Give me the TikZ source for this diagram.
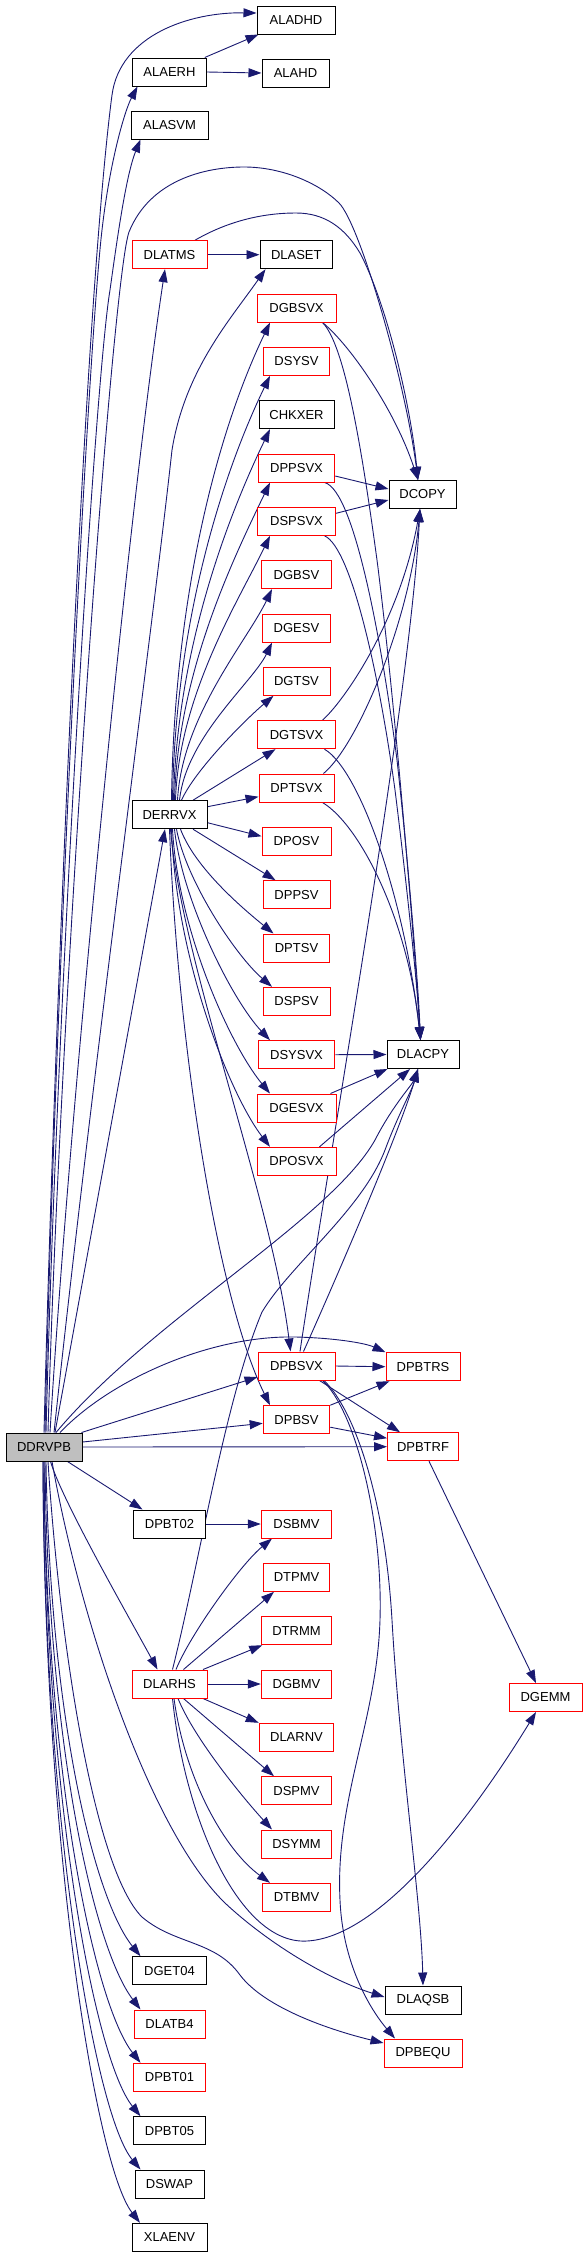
\documentclass[tikz,border=0pt]{standalone}
\usepackage{fontspec}
\setmainfont{Liberation Sans}
\usetikzlibrary{arrows.meta,calc}
\definecolor{edgecol}{HTML}{191970}
\definecolor{nodered}{HTML}{FF0000}
\pgfdeclarelayer{edges}
\pgfsetlayers{edges,main}
\begin{document}
\begin{tikzpicture}[x=1pt,y=-1pt,
  box/.style={draw, line width=1pt, fill=white, minimum height=28pt, inner xsep=1pt, inner ysep=0pt, font=\fontsize{13}{15}\selectfont, anchor=center},
  bk/.style={box, draw=black},
  rd/.style={box, draw=nodered},
  cur/.style={box, draw=black, fill=gray!50},
  e/.style={draw=edgecol, line width=0.9pt, -{Triangle[length=13pt,width=9pt]}},
]
\useasboundingbox (0,0) rectangle (587,2257);
\newcommand\Nd[6]{\node[#1,minimum width=#2pt] (#3) at (#4,#5) {#6};}
% column 0
\Nd{cur}{76}{ddrvpb}{44}{1447}{DDRVPB}
% column 1
\Nd{bk}{73.5}{alaerh}{169.5}{72}{ALAERH}
\Nd{bk}{77}{alasvm}{169.5}{125}{ALASVM}
\Nd{rd}{75}{dlatms}{169.5}{254.7}{DLATMS}
\Nd{bk}{75}{derrvx}{169.5}{814.7}{DERRVX}
\Nd{bk}{72}{dpbt02}{169.5}{1524}{DPBT02}
\Nd{rd}{75}{dlarhs}{169.5}{1684}{DLARHS}
\Nd{bk}{73.5}{dget04}{169.5}{1970.7}{DGET04}
\Nd{rd}{71}{dlatb4}{169.5}{2024}{DLATB4}
\Nd{rd}{72}{dpbt01}{169.5}{2077.3}{DPBT01}
\Nd{bk}{72}{dpbt05}{169.5}{2130.7}{DPBT05}
\Nd{bk}{69}{dswap}{169.5}{2184}{DSWAP}
\Nd{bk}{75}{xlaenv}{169.5}{2237.3}{XLAENV}
% column 2
\Nd{bk}{78}{aladhd}{296}{20}{ALADHD}
\Nd{bk}{67}{alahd}{295.5}{73}{ALAHD}
\Nd{bk}{72.6}{dlaset}{296.3}{254.7}{DLASET}
\Nd{rd}{79}{dgbsvx}{296.5}{308}{DGBSVX}
\Nd{rd}{66.6}{dsysv}{296.5}{361.3}{DSYSV}
\Nd{bk}{75}{chkxer}{296.5}{414.7}{CHKXER}
\Nd{rd}{76.5}{dppsvx}{296.5}{468}{DPPSVX}
\Nd{rd}{78}{dspsvx}{296.5}{521.3}{DSPSVX}
\Nd{rd}{70}{dgbsv}{296.5}{574.7}{DGBSV}
\Nd{rd}{68}{dgesv}{296.5}{628}{DGESV}
\Nd{rd}{67}{dgtsv}{296.5}{681.3}{DGTSV}
\Nd{rd}{78}{dgtsvx}{296.5}{734.7}{DGTSVX}
\Nd{rd}{75}{dptsvx}{296.5}{788}{DPTSVX}
\Nd{rd}{69}{dposv}{296.5}{841.3}{DPOSV}
\Nd{rd}{67}{dppsv}{296.5}{894.7}{DPPSV}
\Nd{rd}{65.6}{dptsv}{296.5}{948}{DPTSV}
\Nd{rd}{67}{dspsv}{296.5}{1001.3}{DSPSV}
\Nd{rd}{76.5}{dsysvx}{296.5}{1054.7}{DSYSVX}
\Nd{rd}{79}{dgesvx}{296.5}{1108}{DGESVX}
\Nd{rd}{79}{dposvx}{296.5}{1161.3}{DPOSVX}
\Nd{rd}{77}{dpbsvx}{296.5}{1366}{DPBSVX}
\Nd{rd}{66.6}{dpbsv}{296.5}{1419.7}{DPBSV}
\Nd{rd}{70.5}{dsbmv}{296.5}{1524}{DSBMV}
\Nd{rd}{66.6}{dtpmv}{296.5}{1577.3}{DTPMV}
\Nd{rd}{69.5}{dtrmm}{296.5}{1630.7}{DTRMM}
\Nd{rd}{70.5}{dgbmv}{296.5}{1684}{DGBMV}
\Nd{rd}{74.6}{dlarnv}{296.5}{1737.3}{DLARNV}
\Nd{rd}{69.5}{dspmv}{296.5}{1790.7}{DSPMV}
\Nd{rd}{70.5}{dsymm}{296.5}{1844}{DSYMM}
\Nd{rd}{68}{dtbmv}{296.5}{1897.3}{DTBMV}
% column 3
\Nd{bk}{67}{dcopy}{422.5}{494.5}{DCOPY}
\Nd{bk}{72}{dlacpy}{423}{1054.5}{DLACPY}
\Nd{rd}{74}{dpbtrs}{423}{1366.7}{DPBTRS}
\Nd{rd}{71}{dpbtrf}{423}{1446.7}{DPBTRF}
\Nd{bk}{76}{dlaqsb}{423}{2000}{DLAQSB}
\Nd{rd}{78}{dpbequ}{423}{2053}{DPBEQU}
% column 4
\Nd{rd}{73}{dgemm}{545.5}{1697.5}{DGEMM}

\begin{pgfonlayer}{edges}
% DDRVPB upward
\draw[e] (ddrvpb.north) .. controls (55,1000) and (85,300) .. (112,95) .. controls (120,35) and (190,12) .. ($(aladhd.west)+(0,-7)$);
\draw[e] ($(ddrvpb.north)+(1,0)$) .. controls (55,1000) and (88,350) .. (102,230) .. controls (110,160) and (125,110) .. ($(alaerh.south)+(-32,0)$);
\draw[e] ($(ddrvpb.north)+(2,0)$) .. controls (57,1000) and (95,380) .. (110,290) .. controls (117,240) and (126,175) .. ($(alasvm.south)+(-29,0)$);
\draw[e] ($(ddrvpb.north)+(4,0)$) .. controls (60,1000) and (112,280) .. (129,232) .. controls (150,180) and (205,167) .. (244,167) .. controls (283,167) and (320,184) .. (339,203) .. controls (360,224) and (405,380) .. ($(dcopy.north)+(-4.5,0)$);
\draw[e] ($(ddrvpb.north)+(6,0)$) .. controls (70,1100) and (130,500) .. ($(dlatms.south)+(-4.5,0)$);
\draw[e] ($(ddrvpb.north)+(10,0)$) .. controls (95,1050) and (150,650) .. (172,450) .. controls (185,370) and (230,320) .. ($(dlaset.south west)+(6,0)$);
\draw[e] ($(ddrvpb.north)+(11,0)$) -- ($(derrvx.south)+(-4.5,0)$);
\draw[e] ($(ddrvpb.north)+(12,0)$) .. controls (150,1320) and (330,1220) .. (375,1140) .. controls (393,1105) and (412,1085) .. ($(dlacpy.south)+(-5,0)$);
\draw[e] ($(ddrvpb.north)+(16,0)$) .. controls (110,1380) and (210,1335) .. (296,1337) .. controls (335,1338) and (365,1343) .. (dpbtrs.north west);
% DDRVPB right
\draw[e] (ddrvpb.east) -- (dpbtrf.west);
\draw[e] ($(ddrvpb.east)+(0,-5)$) -- ($(dpbsv.west)+(0,3.6)$);
\draw[e] ($(ddrvpb.north east)+(-1,0)$) -- ($(dpbsvx.south west)+(0,-3.5)$);
% DDRVPB downward
\draw[e] ($(ddrvpb.south)+(23.5,0)$) -- ($(dpbt02.north)+(-27,0)$);
\draw[e] ($(ddrvpb.south)+(6.5,0)$) .. controls (62,1500) and (125,1610) .. ($(dlarhs.north)+(-12,0)$);
\draw[e] ($(ddrvpb.south)+(8,0)$) .. controls (80,1620) and (150,1830) .. (225,1903) .. controls (270,1945) and (330,1980) .. ($(dlaqsb.west)+(0,-3)$);
\draw[e] ($(ddrvpb.south)+(4,0)$) .. controls (60,1650) and (95,1870) .. (142,1917) .. controls (175,1945) and (215,1940) .. (240,1975) .. controls (265,2008) and (330,2030) .. ($(dpbequ.west)+(0,-10)$);
\draw[e] ($(ddrvpb.south)+(2,0)$) .. controls (50,1720) and (95,1900) .. ($(dget04.north)+(-29,0)$);
\draw[e] ($(ddrvpb.south)+(1,0)$) .. controls (48,1750) and (95,1950) .. ($(dlatb4.north)+(-29,0)$);
\draw[e] (ddrvpb.south) .. controls (46,1780) and (95,2005) .. ($(dpbt01.north)+(-29,0)$);
\draw[e] (ddrvpb.south) .. controls (45,1800) and (95,2060) .. ($(dpbt05.north)+(-29,0)$);
\draw[e] ($(ddrvpb.south)+(-1,0)$) .. controls (44,1820) and (95,2115) .. ($(dswap.north)+(-29,0)$);
\draw[e] ($(ddrvpb.south)+(-1,0)$) .. controls (44,1840) and (95,2165) .. ($(xlaenv.north)+(-29.5,0)$);
% ALAERH, DLATMS
\draw[e] (alaerh.east) -- (alahd.west);
\draw[e] ($(alaerh.north east)+(-2,0)$) -- ($(aladhd.south west)+(2,0)$);
\draw[e] (dlatms.east) -- (dlaset.west);
\draw[e] ($(dlatms.north)+(25.5,0)$) .. controls (230,220) and (265,213) .. (296,213) .. controls (325,213) and (345,228) .. (360,253) .. controls (385,300) and (410,400) .. ($(dcopy.north)+(-4.5,0)$);
% DERRVX upward
\draw[e] ($(derrvx.north)+(2,0)$) .. controls (174,610) and (212.5,442) .. ($(dgbsvx.south)+(-26.5,0)$);
\draw[e] ($(derrvx.north)+(3,0)$) .. controls (175,630) and (219,481) .. ($(dsysv.south)+(-26.5,0)$);
\draw[e] ($(derrvx.north)+(4,0)$) .. controls (177,652) and (225.4,521.7) .. ($(chkxer.south)+(-26.5,0)$);
\draw[e] ($(derrvx.north)+(5,0)$) .. controls (178,673) and (231.7,562) .. ($(dppsvx.south)+(-26.5,0)$);
\draw[e] ($(derrvx.north)+(6,0)$) .. controls (179,695) and (238.2,601.3) .. ($(dspsvx.south)+(-26.5,0)$);
\draw[e] ($(derrvx.north)+(8,0)$) .. controls (182,716) and (246.6,641.7) .. ($(dgbsv.south)+(-24.5,0)$);
\draw[e] ($(derrvx.north)+(10,0)$) .. controls (186,737) and (253,682) .. ($(dgesv.south)+(-24.5,0)$);
\draw[e] ($(derrvx.north)+(12,0)$) .. controls (195,770) and (245,720) .. ($(dgtsv.south)+(-23,0)$);
\draw[e] ($(derrvx.north)+(23.5,0)$) -- ($(dgtsvx.south)+(-21,0)$);
\draw[e] ($(derrvx.east)+(0,-8)$) -- ($(dptsvx.west)+(0,8.7)$);
% DERRVX downward
\draw[e] ($(derrvx.east)+(0,8)$) -- ($(dposv.west)+(0,-5)$);
\draw[e] ($(derrvx.south)+(23.5,0)$) -- ($(dppsv.north)+(-21,0)$);
\draw[e] ($(derrvx.south)+(11,0)$) .. controls (195.5,868.7) and (243.5,909) .. ($(dptsv.north)+(-23,0)$);
\draw[e] ($(derrvx.south)+(7,0)$) .. controls (186,880) and (235,955) .. ($(dspsv.north)+(-24.5,0)$);
\draw[e] ($(derrvx.south)+(5,0)$) .. controls (182,900) and (232,1000) .. ($(dsysvx.north)+(-26.5,0)$);
\draw[e] ($(derrvx.south)+(3,0)$) .. controls (178,930) and (230,1045) .. ($(dgesvx.north)+(-26.5,0)$);
\draw[e] ($(derrvx.south)+(2,0)$) .. controls (176,960) and (230,1095) .. ($(dposvx.north)+(-26.5,0)$);
\draw[e] ($(derrvx.south)+(1,0)$) .. controls (181,960) and (272,1200) .. ($(dpbsvx.north)+(-6,0)$);
\draw[e] (derrvx.south) .. controls (178,1050) and (218,1300) .. ($(dpbsv.north)+(-26.5,0)$);
% into DCOPY
\draw[e] ($(dgbsvx.south)+(26,0)$) .. controls (350,345) and (395,410) .. ($(dcopy.north)+(-4.5,0)$);
\draw[e] ($(dppsvx.east)+(0,8)$) -- ($(dcopy.west)+(0,-5.5)$);
\draw[e] ($(dspsvx.east)+(0,-8)$) -- ($(dcopy.west)+(0,5.5)$);
\draw[e] ($(dgtsvx.north)+(26,0)$) .. controls (345,700) and (400,620) .. ($(dcopy.south)+(-2.5,0)$);
\draw[e] ($(dptsvx.north)+(27,0)$) .. controls (358,745) and (410,620) .. ($(dcopy.south)+(-2.5,0)$);
\draw[e] ($(dpbsvx.north)+(3.5,0)$) .. controls (330,1150) and (410,700) .. ($(dcopy.south)+(-2.5,0)$);
% into DLACPY
\draw[e] ($(dgbsvx.south)+(26,0)$) .. controls (345,345) and (362,450) .. (377,560) .. controls (395,700) and (415,950) .. ($(dlacpy.north)+(-2.5,0)$);
\draw[e] ($(dppsvx.south)+(28,0)$) .. controls (355,490) and (383,650) .. (397,760) .. controls (408,860) and (418,980) .. ($(dlacpy.north)+(-2.5,0)$);
\draw[e] ($(dspsvx.south)+(28,0)$) .. controls (352,548) and (380,680) .. (395,790) .. controls (405,870) and (417,980) .. ($(dlacpy.north)+(-2.5,0)$);
\draw[e] ($(dgtsvx.south)+(28,0)$) .. controls (360,770) and (405,900) .. ($(dlacpy.north)+(-2.5,0)$);
\draw[e] ($(dptsvx.south)+(26,0)$) .. controls (360,825) and (408,920) .. ($(dlacpy.north)+(-2.5,0)$);
\draw[e] (dsysvx.east) -- (dlacpy.west);
\draw[e] ($(dgesvx.north east)+(-6,0)$) -- ($(dlacpy.south west)+(1,0)$);
\draw[e] ($(dposvx.north east)+(-17,0)$) -- ($(dlacpy.south)+(-13,0)$);
\draw[e] ($(dpbsvx.north)+(7,0)$) .. controls (340,1270) and (400,1130) .. ($(dlacpy.south)+(-5,0)$);
\draw[e] ($(dlarhs.north)+(3,0)$) .. controls (200,1560) and (225,1400) .. (262,1312) .. controls (290,1265) and (362,1210) .. (385,1150) .. controls (398,1115) and (412,1090) .. ($(dlacpy.south)+(-5,0)$);
% DPBSVX, DPBSV
\draw[e] (dpbsvx.east) -- (dpbtrs.west);
\draw[e] ($(dpbsvx.south east)+(-16,0)$) -- ($(dpbtrf.north west)+(13,0)$);
\draw[e] ($(dpbsvx.south)+(27.5,0)$) .. controls (355,1410) and (385,1500) .. (392,1620) .. controls (400,1760) and (421,1900) .. (dlaqsb.north);
\draw[e] ($(dpbsvx.south)+(26,0)$) .. controls (355,1410) and (383,1520) .. (380,1620) .. controls (377,1720) and (335,1800) .. (340,1900) .. controls (343,1970) and (375,2015) .. ($(dpbequ.north)+(-28,0)$);
\draw[e] (dpbsv.north east) -- ($(dpbtrs.south west)+(4,0)$);
\draw[e] ($(dpbsv.east)+(0,7.5)$) -- ($(dpbtrf.west)+(0,-8.5)$);
\draw[e] ($(dpbtrf.south)+(6,0)$) -- ($(dgemm.north)+(-9.5,0)$);
% DPBT02, DLARHS
\draw[e] (dpbt02.east) -- (dsbmv.west);
\draw[e] ($(dlarhs.north)+(6.5,0)$) .. controls (190,1635) and (240,1565) .. ($(dsbmv.south)+(-24.5,0)$);
\draw[e] ($(dlarhs.north)+(14,0)$) -- ($(dtpmv.south)+(-22.5,0)$);
\draw[e] ($(dlarhs.north east)+(-4.5,0)$) -- ($(dtrmm.south west)+(1,0)$);
\draw[e] (dlarhs.east) -- (dgbmv.west);
\draw[e] ($(dlarhs.south east)+(-4.5,0)$) -- (dlarnv.north west);
\draw[e] ($(dlarhs.south)+(14,0)$) -- ($(dspmv.north)+(-22.5,0)$);
\draw[e] ($(dlarhs.south)+(8.5,0)$) .. controls (195,1740) and (245,1800) .. ($(dsymm.north)+(-24.5,0)$);
\draw[e] ($(dlarhs.south)+(4.5,0)$) .. controls (185,1780) and (225,1850) .. ($(dtbmv.north)+(-26.5,0)$);
\draw[e] ($(dlarhs.south)+(3,0)$) .. controls (185,1820) and (240,1945) .. (307,1941) .. controls (380,1937) and (470,1820) .. ($(dgemm.south)+(-9.5,0)$);
\end{pgfonlayer}
\end{tikzpicture}
\end{document}
